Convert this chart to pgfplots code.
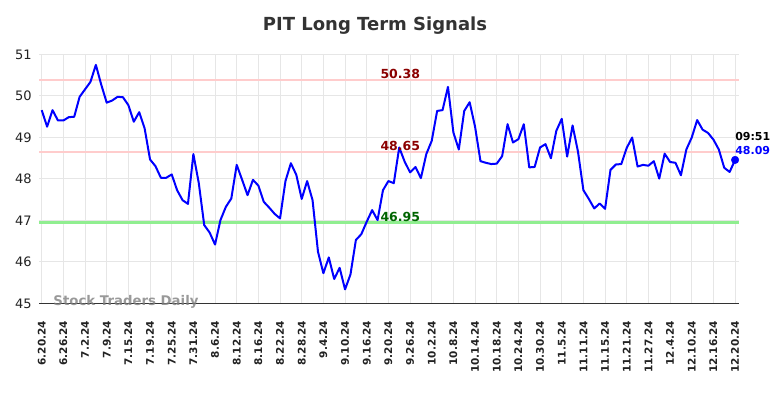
\documentclass[border=0pt]{standalone}
\usepackage{pgfplots}
\pgfplotsset{compat=1.18}
\usepackage{fontspec}
\setmainfont{DejaVu Sans}
\definecolor{gridc}{HTML}{E6E6E6}
\definecolor{titlec}{HTML}{333333}
\definecolor{tickc}{HTML}{222222}
\definecolor{redline}{HTML}{FFCCCC}
\definecolor{greenline}{HTML}{90EE90}
\definecolor{darkred}{HTML}{8B0000}
\definecolor{darkgreen}{HTML}{006400}
\pgfplotstableread{
i v
0 49.66
1 49.26
2 49.66
3 49.41
4 49.41
5 49.49
6 49.50
7 49.98
8 50.16
9 50.34
10 50.75
11 50.27
12 49.84
13 49.89
14 49.98
15 49.97
16 49.78
17 49.38
18 49.61
19 49.22
20 48.47
21 48.31
22 48.03
23 48.03
24 48.11
25 47.73
26 47.49
27 47.40
28 48.60
29 47.90
30 46.89
31 46.71
32 46.42
33 47.01
34 47.33
35 47.53
36 48.34
37 47.98
38 47.61
39 47.98
40 47.84
41 47.45
42 47.31
43 47.16
44 47.05
45 47.95
46 48.38
47 48.10
48 47.52
49 47.95
50 47.49
51 46.25
52 45.73
53 46.11
54 45.59
55 45.86
56 45.34
57 45.70
58 46.53
59 46.67
60 46.97
61 47.25
62 47.01
63 47.73
64 47.95
65 47.90
66 48.76
67 48.42
68 48.16
69 48.29
70 48.02
71 48.60
72 48.92
73 49.64
74 49.66
75 50.22
76 49.12
77 48.71
78 49.64
79 49.85
80 49.26
81 48.43
82 48.39
83 48.36
84 48.37
85 48.55
86 49.32
87 48.88
88 48.96
89 49.32
90 48.28
91 48.29
92 48.76
93 48.84
94 48.50
95 49.16
96 49.45
97 48.54
98 49.29
99 48.66
100 47.73
101 47.52
102 47.29
103 47.41
104 47.28
105 48.22
106 48.35
107 48.36
108 48.75
109 49.00
110 48.30
111 48.34
112 48.32
113 48.43
114 48.01
115 48.61
116 48.41
117 48.39
118 48.09
119 48.71
120 49.00
121 49.42
122 49.19
123 49.11
124 48.95
125 48.71
126 48.27
127 48.17
128 48.46
}\pricedata
\begin{document}
\begin{tikzpicture}[x=1pt,y=1pt]
\useasboundingbox (0,0) rectangle (784,398);
\node[font=\bfseries\fontsize{18}{20}\selectfont, text=titlec] at (375,372) {PIT Long Term Signals};
\begin{axis}[
  at={(39.3pt,94.5pt)}, anchor=south west,
  scale only axis, width=700pt, height=249pt,
  xmin=-0.443, xmax=128.78, ymin=45, ymax=51,
  clip=false,
  axis line style={draw=none},
  grid=major,
  major grid style={gridc, line width=1pt},
  major tick length=0pt,
  ytick={45,46,47,48,49,50,51},
  xtick={0,4,...,128},
  xticklabels={6.20.24,6.26.24,7.2.24,7.9.24,7.15.24,7.19.24,7.25.24,7.31.24,8.6.24,8.12.24,8.16.24,8.22.24,8.28.24,9.4.24,9.10.24,9.16.24,9.20.24,9.26.24,10.2.24,10.8.24,10.14.24,10.18.24,10.24.24,10.30.24,11.5.24,11.11.24,11.15.24,11.21.24,11.27.24,12.4.24,12.10.24,12.16.24,12.20.24},
  xticklabel style={rotate=90, anchor=east, font=\bfseries\fontsize{10.5}{12}\selectfont, text=tickc},
  yticklabel style={font=\fontsize{13}{15}\selectfont, text=tickc},
  xticklabel shift=14pt,
  yticklabel shift=4pt,
  /pgf/number format/assume math mode=true,
]
\addplot[redline, line width=2pt, forget plot] coordinates {(-0.443,50.38) (128.78,50.38)};
\addplot[redline, line width=2pt, forget plot] coordinates {(-0.443,48.65) (128.78,48.65)};
\addplot[greenline, line width=2.6pt, forget plot] coordinates {(-0.443,46.95) (128.78,46.95)};
\draw[color=titlec, line width=1pt] (rel axis cs:0,0) -- (rel axis cs:1,0);
\addplot[blue, line width=2pt, line join=round] table[x=i, y=v] {\pricedata};
\addplot[only marks, mark=*, mark size=3.8pt, blue] coordinates {(128,48.46)};
\node[font=\bfseries\fontsize{12.5}{14}\selectfont, text=darkred, anchor=south, inner sep=1pt] at (axis cs:66.2,50.38) {50.38};
\node[font=\bfseries\fontsize{12.5}{14}\selectfont, text=darkred, anchor=south, inner sep=1pt] at (axis cs:66.2,48.65) {48.65};
\node[font=\bfseries\fontsize{12.5}{14}\selectfont, text=darkgreen, anchor=south, inner sep=1pt] at (axis cs:66.2,46.95) {46.95};
\node[font=\bfseries\fontsize{11}{13}\selectfont, text=black, anchor=west, inner sep=0pt] at ([yshift=23pt]axis cs:128,48.46) {09:51};
\node[font=\bfseries\fontsize{11}{13}\selectfont, text=blue, anchor=west, inner sep=0pt] at ([yshift=9pt]axis cs:128,48.46) {48.09};
\node[font=\bfseries\fontsize{13.3}{15}\selectfont, text=gray, opacity=0.8] at (axis cs:15.56,45.04) {Stock Traders Daily};
\end{axis}
\end{tikzpicture}
\end{document}
